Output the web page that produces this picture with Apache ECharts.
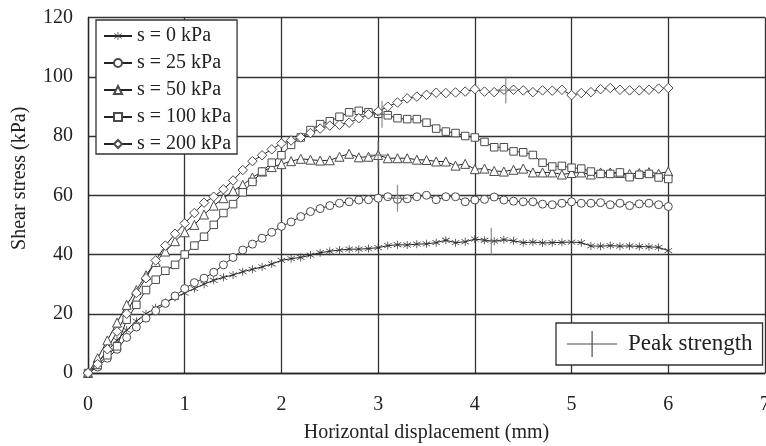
<!DOCTYPE html>
<html>
<head>
<meta charset="utf-8">
<script src="https://cdn.jsdelivr.net/npm/echarts@6/dist/echarts.min.js"></script>
<style>
html,body{margin:0;padding:0;background:#fff;}
#chart{width:766px;height:446px;}
</style>
</head>
<body>
<div id="chart"></div>
<script>
var displacement = [0,0.1,0.2,0.3,0.4,0.5,0.6,0.7,0.8,0.9,1.0,
  1.1,1.2,1.3,1.4,1.5,1.6,1.7,1.8,1.9,2.0,
  2.1,2.2,2.3,2.4,2.5,2.6,2.7,2.8,2.9,3.0,
  3.1,3.2,3.3,3.4,3.5,3.6,3.7,3.8,3.9,4.0,
  4.1,4.2,4.3,4.4,4.5,4.6,4.7,4.8,4.9,5.0,
  5.1,5.2,5.3,5.4,5.5,5.6,5.7,5.8,5.9,6.0];

var s0 = [0,3.5,7.5,11,14.5,17.5,20,22,23.8,25.5,27,
  28.5,30,31.3,32.3,33.1,34.2,35,35.8,36.8,38,
  38.6,39,39.8,40.6,41.1,41.5,41.8,41.8,42,42.3,
  43,43.3,43.2,43.5,43.6,44,44.8,44,44.3,45.2,
  44.8,44.5,45,44.6,44,44.2,43.9,44,44.1,44.2,
  44,42.9,42.8,43,42.8,42.9,42.7,42.6,42.4,41.3];

var s25 = [0,2,5,8,12,15.5,18.5,21,23.5,26,28.5,
  30.5,32,34,36.5,39,41.5,43.5,45.5,47.5,49.5,
  51,52.8,54.5,55.5,56.5,57.3,57.8,58.4,58.5,59,
  59.5,58.6,58.8,59.5,60,58.5,59.5,59.5,57.8,58.4,
  58.6,59.4,58.4,58,57.8,57.8,57,56.8,57.3,57.8,
  57.3,57.3,57.5,56.8,57.3,56.5,57.1,57.3,56.8,56.2];

var s50 = [0,5,11,17,23,28,33,37.5,41,44.5,47.5,
  50,53.5,56.5,59,61.5,63.5,66,68,69.5,70.5,
  71.5,72.3,72,71.7,71.8,73,74,72.8,73,73.6,
  72.5,72.5,72.5,72,71.9,71.4,71.4,70,70.6,68.8,
  69,68.2,68,68.6,69,67.7,67.7,67.7,67,67.5,
  67.7,67,67.7,67.7,67.5,67.2,67.5,67.8,67.3,68];

var s100 = [0,2.7,6,9,18,23,28,31.5,34.5,36.5,40,
  43,46,50,54,57,61,64.5,68,71,73.5,
  77,79.5,82,84,85,86.5,88,88.5,88,87.5,
  87,86,85.7,85.7,84.5,82.5,81.5,81,80,79.5,
  78,76.2,76.2,74.8,74.5,73.6,71,69.7,69.9,69.3,
  69,68,67.2,67.2,67.7,66.1,66.9,67.2,66,65.5];

var s200 = [0,3,8,14,20,27,32,38,43,47,50.5,
  54,57.5,59.5,62,65,68.5,71.5,73.5,75.5,77.5,
  78.5,79.5,81,82.5,83.5,83.8,84.5,86,87.3,88.3,
  89.9,91.3,92.7,93.3,93.9,94.6,94.5,94.7,95,95.8,
  95,94.8,95.6,95.6,95.4,94.8,95.4,95.3,95.6,93.8,
  94.5,94.8,95.8,96.2,95.6,95.4,95.4,95.6,96,96.2];

var peakX = [4.17, 3.2, 3.0, 3.04, 4.32];
var peakY = [44.5, 59, 73.6, 87.3, 95.5];

var seriesNames = ['s = 0 kPa','s = 25 kPa','s = 50 kPa','s = 100 kPa','s = 200 kPa'];
var peakName = 'Peak strength';

var starPath = 'path://M4.6,0L5.4,0L5.4,10L4.6,10Z M0.76,2.32L1.24,1.68L9.24,7.68L8.76,8.32Z M1.24,8.32L0.76,7.68L8.76,1.68L9.24,2.32Z';
var peakPath = 'path://M0,13h20v1.2h-20z M9.4,0h1.2v27h-1.2z';
var peakIcon = 'path://M0,12.5h50v1.1h-50z M24.5,0h1.2v26h-1.2z';

function pairs(xs, ys){
  var out = [];
  for (var i = 0; i < xs.length; i++) out.push([xs[i], ys[i]]);
  return out;
}

var FONT = "'Liberation Serif','Times New Roman',serif";
var symbols = [starPath, 'circle', 'triangle', 'rect', 'diamond'];
var sizes = [8, 8, 9, 7.5, 9.5];
var values = [s0, s25, s50, s100, s200];

var series = [];
for (var k = 0; k < 5; k++) {
  series.push({
    name: seriesNames[k],
    type: 'line',
    data: pairs(displacement, values[k]),
    symbol: symbols[k],
    symbolSize: sizes[k],
    showAllSymbol: true,
    lineStyle: {color: '#222', width: 1},
    itemStyle: k === 0 ? {color: '#333', borderWidth: 0} : {color: '#fff', borderColor: '#4a4a4a', borderWidth: 1},
    emphasis: {disabled: true},
    animation: false,
    z: 3
  });
}
series.push({
  name: peakName,
  type: 'scatter',
  data: pairs(peakX, peakY),
  symbol: peakPath,
  symbolSize: [20, 27],
  itemStyle: {color: '#707070'},
  emphasis: {disabled: true},
  animation: false,
  z: 4
});

var chart = echarts.init(document.getElementById('chart'), null, {renderer: 'canvas'});
chart.setOption({
  backgroundColor: '#fff',
  animation: false,
  textStyle: {fontFamily: FONT},
  grid: {left: 88, right: 1, top: 17.5, bottom: 73, containLabel: false, outerBoundsMode: 'none'},
  xAxis: {
    type: 'value', min: 0, max: 7, interval: 1,
    name: 'Horizontal displacement (mm)',
    nameLocation: 'middle', nameGap: 50,
    nameTextStyle: {fontFamily: FONT, fontSize: 20, color: '#222'},
    axisLine: {show: true, lineStyle: {color: '#222', width: 1.3}},
    axisTick: {show: false},
    axisLabel: {fontFamily: FONT, fontSize: 20, color: '#222', margin: 22},
    splitLine: {show: true, lineStyle: {color: '#333', width: 1.3}}
  },
  yAxis: {
    type: 'value', min: 0, max: 120, interval: 20,
    name: 'Shear stress (kPa)',
    nameLocation: 'middle', nameGap: 58, nameRotate: 90,
    nameTextStyle: {fontFamily: FONT, fontSize: 20, color: '#222', padding: [0, 0, 0, 34]},
    axisLine: {show: true, lineStyle: {color: '#222', width: 1.3}},
    axisTick: {show: false},
    axisLabel: {fontFamily: FONT, fontSize: 20, color: '#222', margin: 15},
    splitLine: {show: true, lineStyle: {color: '#333', width: 1.3}}
  },
  legend: [{
    data: seriesNames,
    orient: 'vertical',
    left: 96, top: 20,
    itemWidth: 28, itemHeight: 10, itemGap: 7,
    padding: [6, 6, 0, 7],
    backgroundColor: '#fff',
    borderColor: '#333', borderWidth: 1.3,
    textStyle: {fontFamily: FONT, fontSize: 20, color: '#222'},
    selectedMode: false
  }, {
    data: [{name: peakName, icon: peakIcon, itemStyle: {color: '#222'}}],
    left: 556, top: 323,
    itemWidth: 50, itemHeight: 26,
    padding: [8, 10, 8, 11],
    backgroundColor: '#fff',
    borderColor: '#333', borderWidth: 1.3,
    textStyle: {fontFamily: FONT, fontSize: 23, color: '#222', padding: [0, 0, 0, 6]},
    selectedMode: false
  }],
  series: series
});
</script>
</body>
</html>
